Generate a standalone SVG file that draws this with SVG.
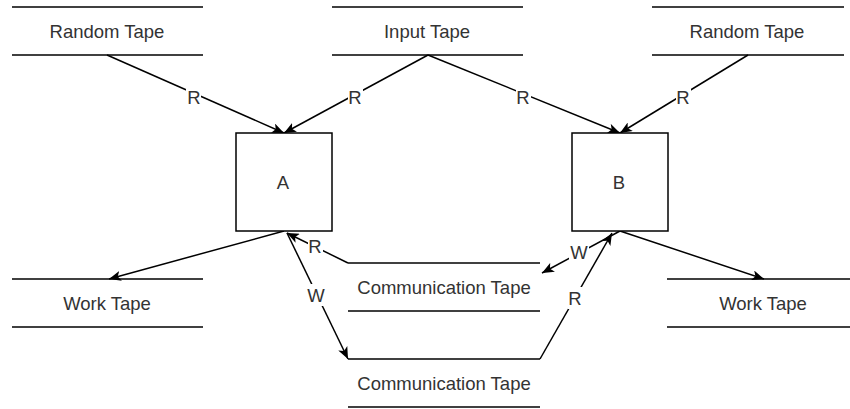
<svg xmlns="http://www.w3.org/2000/svg" width="850" height="409" viewBox="0 0 850 409">
  <style>
    .tape { stroke: #000; stroke-width: 1.5; fill: none; }
    .box { stroke: #000; stroke-width: 1.5; fill: #fff; }
    .edge { stroke: #000; stroke-width: 1.5; fill: none; }
    .lbl { font-family: "Liberation Sans", Arial, sans-serif; font-size: 18.5px; fill: #333; text-anchor: middle; }
    .elbl-bg { fill: #fff; }
  </style>
  <defs>
    <marker id="arrow" viewBox="0 0 12 10" refX="12" refY="5" markerWidth="12" markerHeight="10" markerUnits="userSpaceOnUse" orient="auto">
      <path d="M12,5 L0,0 L3,5 L0,10 Z" fill="#000"/>
    </marker>
  </defs>
  <rect width="850" height="409" fill="#fff"/>

  <!-- connectors -->
  <g id="connectors">
    <line class="edge" x1="107" y1="55" x2="284" y2="133" marker-end="url(#arrow)"/>
    <line class="edge" x1="428" y1="55" x2="284" y2="133" marker-end="url(#arrow)"/>
    <line class="edge" x1="428" y1="55" x2="620" y2="133" marker-end="url(#arrow)"/>
    <line class="edge" x1="748" y1="55" x2="620" y2="133" marker-end="url(#arrow)"/>
    <line class="edge" x1="284" y1="231" x2="109" y2="279" marker-end="url(#arrow)"/>
    <line class="edge" x1="620" y1="231" x2="764" y2="279" marker-end="url(#arrow)"/>
    <line class="edge" x1="348" y1="263" x2="287" y2="233" marker-end="url(#arrow)"/>
    <line class="edge" x1="287" y1="233" x2="348" y2="359" marker-end="url(#arrow)"/>
    <line class="edge" x1="620" y1="231" x2="542" y2="273" marker-end="url(#arrow)"/>
    <line class="edge" x1="540" y1="359" x2="612" y2="233" marker-end="url(#arrow)"/>

    <!-- edge labels -->
    <rect class="elbl-bg" x="186" y="85" width="15" height="22"/>
    <text class="lbl" x="194" y="104">R</text>
    <rect class="elbl-bg" x="348" y="85" width="15" height="22"/>
    <text class="lbl" x="355" y="104">R</text>
    <rect class="elbl-bg" x="516" y="85" width="15" height="22"/>
    <text class="lbl" x="523" y="104">R</text>
    <rect class="elbl-bg" x="676" y="85" width="15" height="22"/>
    <text class="lbl" x="683" y="104">R</text>
    <rect class="elbl-bg" x="308" y="235" width="15" height="22"/>
    <text class="lbl" x="315" y="253">R</text>
    <rect class="elbl-bg" x="306" y="284" width="20" height="22"/>
    <text class="lbl" x="316" y="302">W</text>
    <rect class="elbl-bg" x="569" y="241" width="20" height="22"/>
    <text class="lbl" x="579" y="259">W</text>
    <rect class="elbl-bg" x="568" y="287" width="15" height="22"/>
    <text class="lbl" x="575" y="305">R</text>
  </g>

  <!-- tapes -->
  <g id="random-tape-a">
    <line class="tape" x1="12" y1="7" x2="203" y2="7"/>
    <line class="tape" x1="12" y1="55" x2="203" y2="55"/>
    <text class="lbl" x="107" y="37.5">Random Tape</text>
  </g>
  <g id="input-tape">
    <line class="tape" x1="332" y1="7" x2="523" y2="7"/>
    <line class="tape" x1="332" y1="55" x2="523" y2="55"/>
    <text class="lbl" x="427" y="37.5">Input Tape</text>
  </g>
  <g id="random-tape-b">
    <line class="tape" x1="652" y1="7" x2="844" y2="7"/>
    <line class="tape" x1="652" y1="55" x2="844" y2="55"/>
    <text class="lbl" x="747" y="37.5">Random Tape</text>
  </g>
  <g id="work-tape-a">
    <line class="tape" x1="12" y1="279" x2="203" y2="279"/>
    <line class="tape" x1="12" y1="327" x2="203" y2="327"/>
    <text class="lbl" x="107" y="309.5">Work Tape</text>
  </g>
  <g id="work-tape-b">
    <line class="tape" x1="667" y1="279" x2="858" y2="279"/>
    <line class="tape" x1="667" y1="327" x2="858" y2="327"/>
    <text class="lbl" x="763" y="309.5">Work Tape</text>
  </g>
  <g id="comm-tape-1">
    <line class="tape" x1="348" y1="263" x2="540" y2="263"/>
    <line class="tape" x1="348" y1="311" x2="540" y2="311"/>
    <text class="lbl" x="444" y="293.5">Communication Tape</text>
  </g>
  <g id="comm-tape-2">
    <line class="tape" x1="348" y1="359" x2="540" y2="359"/>
    <line class="tape" x1="348" y1="407" x2="540" y2="407"/>
    <text class="lbl" x="444" y="389.5">Communication Tape</text>
  </g>

  <!-- machines -->
  <g id="machine-a">
    <rect class="box" x="236" y="133" width="96" height="98"/>
    <text class="lbl" x="283" y="188.5">A</text>
  </g>
  <g id="machine-b">
    <rect class="box" x="572" y="133" width="96" height="98"/>
    <text class="lbl" x="619" y="188.5">B</text>
  </g>
</svg>
